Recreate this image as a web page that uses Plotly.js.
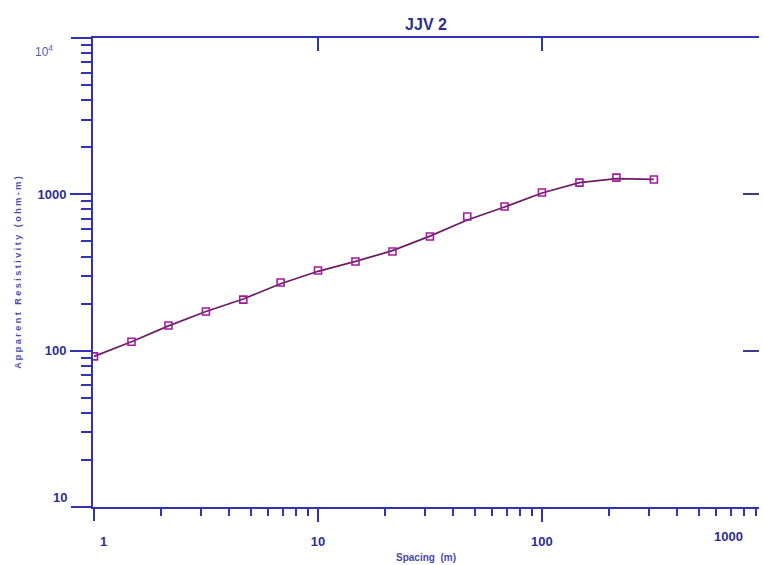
<!DOCTYPE html>
<html><head><meta charset="utf-8">
<script src="https://cdn.plot.ly/plotly-3.0.1.min.js"></script>
<style>html,body{margin:0;padding:0;background:#fff}#c{width:763px;height:565px}</style>
</head><body><div id="c"></div>
<script>
// Observed data (spacing in m, apparent resistivity in ohm-m)
const spacing = [1, 1.47, 2.15, 3.16, 4.64, 6.81, 10, 14.7, 21.5, 31.6, 46.4, 68.1, 100, 147, 215, 316];
const observed = [92, 114, 145, 178, 212, 273, 326, 372, 431, 537, 721, 836, 1028, 1189, 1279, 1244];
// Calculated model curve
const modelRho = [92, 114, 144, 178, 214, 268, 322, 372, 436, 540, 685, 830, 1020, 1190, 1262, 1248];
const xLabelled = [10, 100];
const xLabels = ['<b>10</b>', '<b>100</b>'];
const xMinor = [2,3,4,5,6,7,8,9,20,30,40,50,60,70,80,90,200,300,400,500,600,700,800,900];
const yLabelled = [100, 1000];
const yLabels = ['<b>100</b>', '<b>1000</b>'];
const yMinor = [20,30,40,50,60,70,80,90,200,300,400,500,600,700,800,900,2000,3000,4000,5000,6000,7000,8000,9000];

const AX = '#3232b4';
const LBL = '#2e2e8e';
const FONT = 'Liberation Sans, Arial, sans-serif';
const xr = [-0.0045, 2.969];
const yr = [1, 4];

const traces = [
  {x: spacing, y: modelRho, mode: 'lines', line: {color: '#6b1f62', width: 1.8}, hoverinfo: 'skip', showlegend: false},
  {x: spacing, y: observed, mode: 'markers', marker: {symbol: 'square-open', size: 7, color: '#a01aa0', line: {width: 1.6, color: '#a01aa0'}}, showlegend: false},
  {x: [], y: [], xaxis: 'x2', yaxis: 'y2', type: 'scatter', showlegend: false},
  {x: [], y: [], xaxis: 'x3', yaxis: 'y3', type: 'scatter', showlegend: false}
];

const layout = {
  width: 763, height: 565,
  margin: {l: 93, r: 4, t: 38, b: 58},
  paper_bgcolor: '#fff', plot_bgcolor: '#fff',
  showlegend: false,
  title: {text: '<b>JJV 2</b>', x: 0.5, xref: 'paper', y: 1 - 24 / 565, yref: 'container', yanchor: 'middle', font: {family: FONT, size: 16, color: LBL}},
  xaxis: {
    type: 'log', range: xr, showgrid: false, zeroline: false,
    showline: true, linecolor: AX, linewidth: 2,
    tickmode: 'array', tickvals: xLabelled, ticktext: xLabels,
    ticks: 'outside', ticklen: 13, tickwidth: 2, tickcolor: AX,
    tickfont: {family: FONT, size: 13, color: LBL}, ticklabelstandoff: 8,
    minor: {tickmode: 'array', tickvals: xMinor, ticks: 'outside', ticklen: 7, tickwidth: 2, tickcolor: AX},
    title: {text: '<b>Spacing  (m)</b>', font: {family: FONT, size: 10, color: '#4848a8'}, standoff: 6}
  },
  xaxis2: {
    type: 'log', range: xr, overlaying: 'x', side: 'top', anchor: 'y2',
    showgrid: false, zeroline: false, showline: true, linecolor: AX, linewidth: 2,
    tickmode: 'array', tickvals: [10, 100], ticks: 'inside', ticklen: 13, tickwidth: 2, tickcolor: AX,
    showticklabels: false
  },
  xaxis3: {
    type: 'log', range: xr, overlaying: 'x', side: 'bottom', anchor: 'y3',
    showgrid: false, zeroline: false, showline: false,
    tickmode: 'array', tickvals: [1], ticks: 'outside', ticklen: 13, tickwidth: 2, tickcolor: AX,
    showticklabels: false
  },
  yaxis: {
    type: 'log', range: yr, showgrid: false, zeroline: false,
    showline: true, linecolor: AX, linewidth: 2,
    tickmode: 'array', tickvals: yLabelled, ticktext: yLabels,
    ticks: 'outside', ticklen: 21, tickwidth: 2, tickcolor: AX,
    tickfont: {family: FONT, size: 13, color: LBL}, ticklabelstandoff: 1,
    minor: {tickmode: 'array', tickvals: yMinor, ticks: 'outside', ticklen: 10, tickwidth: 2, tickcolor: AX},
    title: {text: '<b>A p p a r e n t   R e s i s t i v i t y   ( o h m - m )</b>', font: {family: FONT, size: 9, color: '#4a4ab0'}, standoff: 14}
  },
  yaxis2: {
    type: 'log', range: yr, overlaying: 'y', side: 'right', anchor: 'x2',
    showgrid: false, zeroline: false, showline: false,
    tickmode: 'array', tickvals: [100, 1000], ticks: 'inside', ticklen: 16, tickwidth: 2, tickcolor: '#3c3c8c',
    showticklabels: false
  },
  yaxis3: {
    type: 'log', range: [0.999, 4.001], overlaying: 'y', side: 'left', anchor: 'x3',
    showgrid: false, zeroline: false, showline: false,
    tickmode: 'array', tickvals: [10, 10000], ticks: 'outside', ticklen: 21, tickwidth: 2, tickcolor: AX,
    showticklabels: false
  },
  annotations: [
    {text: '<b>1</b>', showarrow: false, font: {family: FONT, size: 13, color: LBL}, xref: 'paper', yref: 'paper'},
    {text: '<b>1000</b>', showarrow: false, font: {family: FONT, size: 13, color: LBL}, xref: 'paper', yref: 'paper'},
    {text: '<b>10</b>', showarrow: false, font: {family: FONT, size: 13, color: LBL}, xref: 'paper', yref: 'paper'},
    {text: '10<sup>4</sup>', showarrow: false, font: {family: FONT, size: 12, color: '#5a5ab4'}, xref: 'paper', yref: 'paper'}
  ]
};

// convert pixel positions to paper coords for the offset labels
const pw = 763 - 93 - 4, ph = 565 - 38 - 58;
function px(x) { return (x - 93) / pw; }
function py(y) { return (565 - 58 - y) / ph; }
const pos = [[103, 541], [728, 536], [60, 497], [44, 51]];
layout.annotations.forEach((a, i) => { a.x = px(pos[i][0]); a.y = py(pos[i][1]); a.xanchor = 'center'; a.yanchor = 'middle'; });

Plotly.newPlot('c', traces, layout, {displayModeBar: false, staticPlot: true});
</script></body></html>
